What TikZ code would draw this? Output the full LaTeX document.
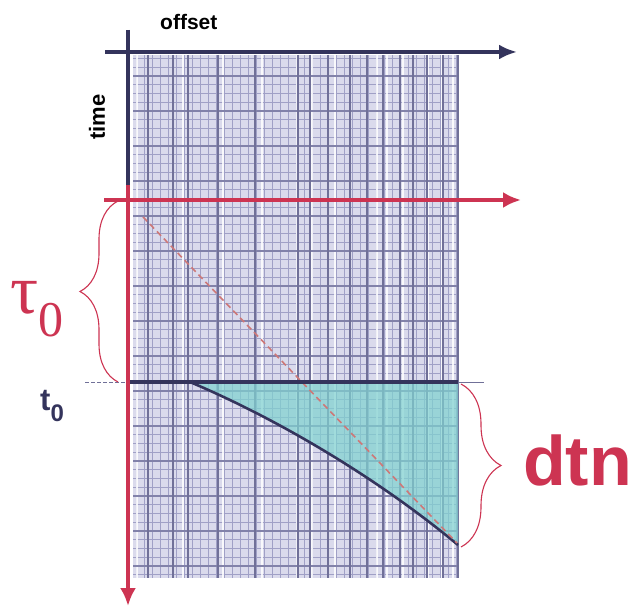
\documentclass[tikz,border=0pt]{standalone}
\usepackage{fontspec}
\usetikzlibrary{decorations.pathreplacing,arrows.meta}
\newfontfamily\sansb{Liberation Sans}
\newfontfamily\serifg{Liberation Serif}
\definecolor{axred}{RGB}{205,52,82}
\definecolor{axnavy}{RGB}{52,52,92}
\definecolor{gridbg}{RGB}{218,218,236}
\definecolor{gridfine}{RGB}{160,160,198}
\definecolor{gridmajor}{RGB}{112,112,152}
\definecolor{gridhmajor}{RGB}{130,130,170}
\definecolor{cyanfill}{RGB}{128,210,208}
\definecolor{diagred}{RGB}{205,120,120}
\begin{document}
\begin{tikzpicture}[x=1pt,y=-1pt,
  fineline/.style={draw=gridfine,line width=0.8pt},
  majorline/.style={draw=gridmajor,line width=1.3pt},
  hmajorline/.style={draw=gridhmajor,line width=1.1pt},
  stripe/.style={draw=white,line width=2.6pt,draw opacity=0.85},
  navyaxis/.style={draw=axnavy,line width=3.5pt,-{Latex[length=18pt,width=15pt]}},
  redaxis/.style={draw=axred,line width=3.5pt,-{Latex[length=18pt,width=16pt]}},
  bracestyle/.style={draw=axred,line width=1.1pt,decorate},
  lbl/.style={inner sep=0pt}]
\useasboundingbox (0,0) rectangle (634,609);
\fill[white] (0,0) rectangle (634,609);
% grid
\fill[gridbg] (133,55) rectangle (458,578);
\foreach \x in {136,144,...,456} \draw[fineline] (\x,55) -- (\x,578);
\foreach \y in {58.5,67.25,...,578} \draw[fineline] (133,\y) -- (458,\y);
\foreach \x in {137,183,223,262,297,312,335,350,377,387,403,428,442,453} \draw[stripe] (\x,55) -- (\x,578);
\foreach \y in {76,111,...,570} \draw[hmajorline] (133,\y) -- (458,\y);
\foreach \x in {148,173,188,218,255,298,310,328,350,367,383,400,413,427,443,458} \draw[majorline] (\x,55) -- (\x,578);
% cyan region
\coordinate (c0) at (190,382);
\coordinate (c1) at (458,545);
\coordinate (c2) at (458,382);
\fill[cyanfill,fill opacity=0.72] (c0) .. controls (280,420) and (380,480) .. (c1) -- (c2) -- cycle;
\draw[axnavy,line width=2.6pt] (c0) .. controls (280,420) and (380,480) .. (c1);
% diagonal
\coordinate (d0) at (143,217);
\coordinate (d1) at (457,543);
\draw[diagred,line width=1.6pt,dash pattern=on 6pt off 4pt] (d0) -- (d1);
% t0 line
\coordinate (tl) at (85,382);
\coordinate (ta) at (128,382);
\coordinate (tr) at (458,382);
\coordinate (te) at (484,382);
\draw[gridmajor,line width=1pt,dash pattern=on 4pt off 2pt] (tl) -- (ta);
\draw[axnavy,line width=3.5pt] (ta) -- (tr);
\draw[gridmajor,line width=1pt] (tr) -- (te);
% black axes
\coordinate (oxL) at (105,52);
\coordinate (oxR) at (517,52);
\coordinate (tyT) at (128,30);
\coordinate (tyB) at (128,200);
\draw[axnavy,line width=3.5pt] (tyT) -- (tyB);
\draw[navyaxis] (oxL) -- (oxR);
% red axes
\coordinate (rxL) at (104,200);
\coordinate (rxR) at (521,200);
\coordinate (ryT) at (128,185);
\coordinate (ryB) at (128,606);
\draw[redaxis] (rxL) -- (rxR);
\draw[redaxis] (ryT) -- (ryB);
% braces
\coordinate (lb0) at (118,382);
\coordinate (lb1) at (118,201);
\draw[bracestyle,decoration={brace,amplitude=38pt,aspect=0.5}] (lb0) -- (lb1);
\coordinate (rb0) at (461,384);
\coordinate (rb1) at (461,547);
\draw[bracestyle,decoration={brace,amplitude=40pt,aspect=0.5}] (rb0) -- (rb1);
% labels
\node[lbl,anchor=base west] (offset) at (160,30) {\sansb\bfseries\fontsize{21}{21}\selectfont offset};
\node[lbl,rotate=90] (time) at (97,117) {\sansb\bfseries\fontsize{22}{22}\selectfont time};
\node[lbl,anchor=base west,text=axred] (tau) at (10,313) {\serifg\fontsize{70}{70}\selectfont τ\raisebox{-24pt}{\fontsize{50}{50}\selectfont 0}};
\node[lbl,anchor=base west,text=axnavy] (tzero) at (40,410) {\sansb\bfseries\fontsize{31}{31}\selectfont t\raisebox{-11pt}{\fontsize{24}{24}\selectfont 0}};
\node[lbl,anchor=base west,text=axred] (dtn) at (523,485) {\sansb\bfseries\fontsize{70}{70}\selectfont dtn};
\end{tikzpicture}
\end{document}
